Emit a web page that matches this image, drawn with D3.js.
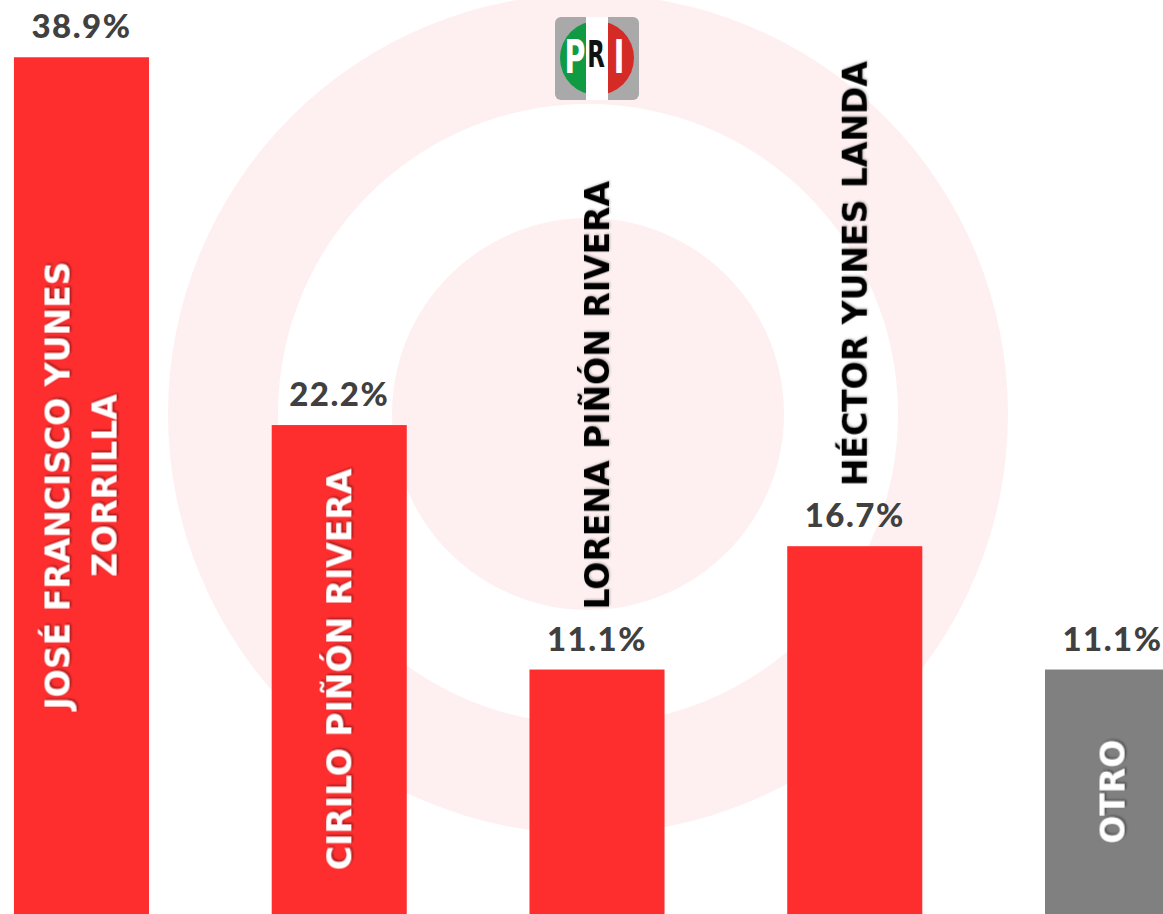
<!DOCTYPE html>
<html>
<head>
<meta charset="utf-8">
<script src="https://cdn.jsdelivr.net/npm/d3@7"></script>
<style>
  html, body { margin: 0; padding: 0; background: #fff; overflow: hidden; }
</style>
</head>
<body>
<div id="chart"></div>
<script>
const candidates = ["JOSÉ FRANCISCO YUNES ZORRILLA", "CIRILO PIÑÓN RIVERA", "LORENA PIÑÓN RIVERA", "HÉCTOR YUNES LANDA", "OTRO"];
const labelLines = [["JOSÉ FRANCISCO YUNES", "ZORRILLA"], ["CIRILO PIÑÓN RIVERA"], ["LORENA PIÑÓN RIVERA"], ["HÉCTOR YUNES LANDA"], ["OTRO"]];
const shares = [38.9, 22.2, 11.1, 16.7, 11.1];
const barColors = ["#fe2e2f", "#fe2e2f", "#fe2e2f", "#fe2e2f", "#808080"];

const width = 1163;
const height = 914;

const svg = d3.select("#chart").append("svg")
    .attr("width", width)
    .attr("height", height);

const defs = svg.append("defs");
const shadow = defs.append("filter").attr("id", "shadow")
    .attr("x", "-20%").attr("y", "-20%").attr("width", "140%").attr("height", "140%");
shadow.append("feDropShadow")
    .attr("dx", 1.5).attr("dy", 1.5).attr("stdDeviation", 1.2)
    .attr("flood-color", "#000").attr("flood-opacity", 0.45);
const softShadow = defs.append("filter").attr("id", "softShadow")
    .attr("x", "-20%").attr("y", "-20%").attr("width", "140%").attr("height", "140%");
softShadow.append("feDropShadow")
    .attr("dx", 1).attr("dy", 1).attr("stdDeviation", 1)
    .attr("flood-color", "#000").attr("flood-opacity", 0.25);

// background target rings
const bg = svg.append("g").attr("transform", "translate(588,414)");
bg.append("circle").attr("r", 420).attr("fill", "#fef0f0");
bg.append("circle").attr("r", 310).attr("fill", "#ffffff");
bg.append("circle").attr("r", 196).attr("fill", "#fef0f0");

// PRI logo
const logo = svg.append("g").attr("transform", "translate(597,58)");
logo.append("rect").attr("x", -42).attr("y", -41).attr("width", 84).attr("height", 83)
    .attr("rx", 6).attr("fill", "#a9a9a9");
logo.append("clipPath").attr("id", "logoClip")
    .append("circle").attr("r", 37);
const disc = logo.append("g").attr("clip-path", "url(#logoClip)");
disc.append("rect").attr("x", -37).attr("y", -37).attr("width", 37).attr("height", 74).attr("fill", "#119a44");
disc.append("rect").attr("x", 0).attr("y", -37).attr("width", 37).attr("height", 74).attr("fill", "#d52b27");
logo.append("rect").attr("x", -11).attr("y", -41).attr("width", 22).attr("height", 83).attr("fill", "#ffffff");
const pri = logo.append("text")
    .attr("transform", "scale(0.62,1)")
    .attr("text-anchor", "middle")
    .attr("font-family", "'DejaVu Sans', sans-serif")
    .attr("font-weight", "bold");
pri.append("tspan").attr("x", -35.5).attr("y", 15).attr("font-size", 46).attr("fill", "#fff").text("P");
pri.append("tspan").attr("x", -1.6).attr("y", 9).attr("font-size", 37).attr("fill", "#111").text("R");
pri.append("tspan").attr("x", 35.5).attr("y", 15).attr("font-size", 46).attr("fill", "#fff").text("I");

const x = d3.scaleBand()
    .domain(candidates)
    .range([-47.4, 1241.4])
    .paddingInner(0.476)
    .paddingOuter(0.238);

const y = d3.scaleLinear()
    .domain([0, 41.5])
    .range([height, 0]);

const bars = svg.append("g");

candidates.forEach(function(c, i) {
    const v = shares[i];
    const bx = x(c);
    const bw = x.bandwidth();
    const cx = bx + bw / 2;
    const top = y(v);

    bars.append("rect")
        .attr("x", bx)
        .attr("y", top)
        .attr("width", bw)
        .attr("height", y(0) - top)
        .attr("fill", barColors[i]);

    bars.append("text")
        .attr("x", cx)
        .attr("y", top - 19)
        .attr("text-anchor", "middle")
        .attr("font-family", "Lato, sans-serif")
        .attr("font-weight", 900)
        .attr("font-size", 33)
        .attr("letter-spacing", 1.5)
        .attr("fill", "#404040")
        .text(v.toFixed(1) + "%");

    // rotated candidate name
    const lines = labelLines[i];
    const lbl = bars.append("text")
        .attr("font-family", "'DejaVu Sans', sans-serif")
        .attr("font-weight", "bold")
        .attr("font-size", 33)
        .attr("text-anchor", "middle");
    lines.forEach(function(t, j) {
        lbl.append("tspan")
            .attr("x", 0)
            .attr("y", (j - (lines.length - 1) / 2) * 47)
            .attr("dy", "0.36em")
            .text(t);
    });
    const len = d3.max(lbl.selectAll("tspan").nodes(), n => n.getComputedTextLength());
    const barH = y(0) - top;
    if (len + 30 < barH) {
        lbl.attr("fill", "#fff")
            .attr("filter", "url(#shadow)")
            .attr("transform", `translate(${cx},${top + barH / 2}) rotate(-90)`);
    } else {
        const endY = top - 60;
        lbl.attr("fill", "#000")
            .attr("filter", "url(#softShadow)")
            .attr("transform", `translate(${cx},${endY - len / 2}) rotate(-90)`);
    }
});
</script>
</body>
</html>
